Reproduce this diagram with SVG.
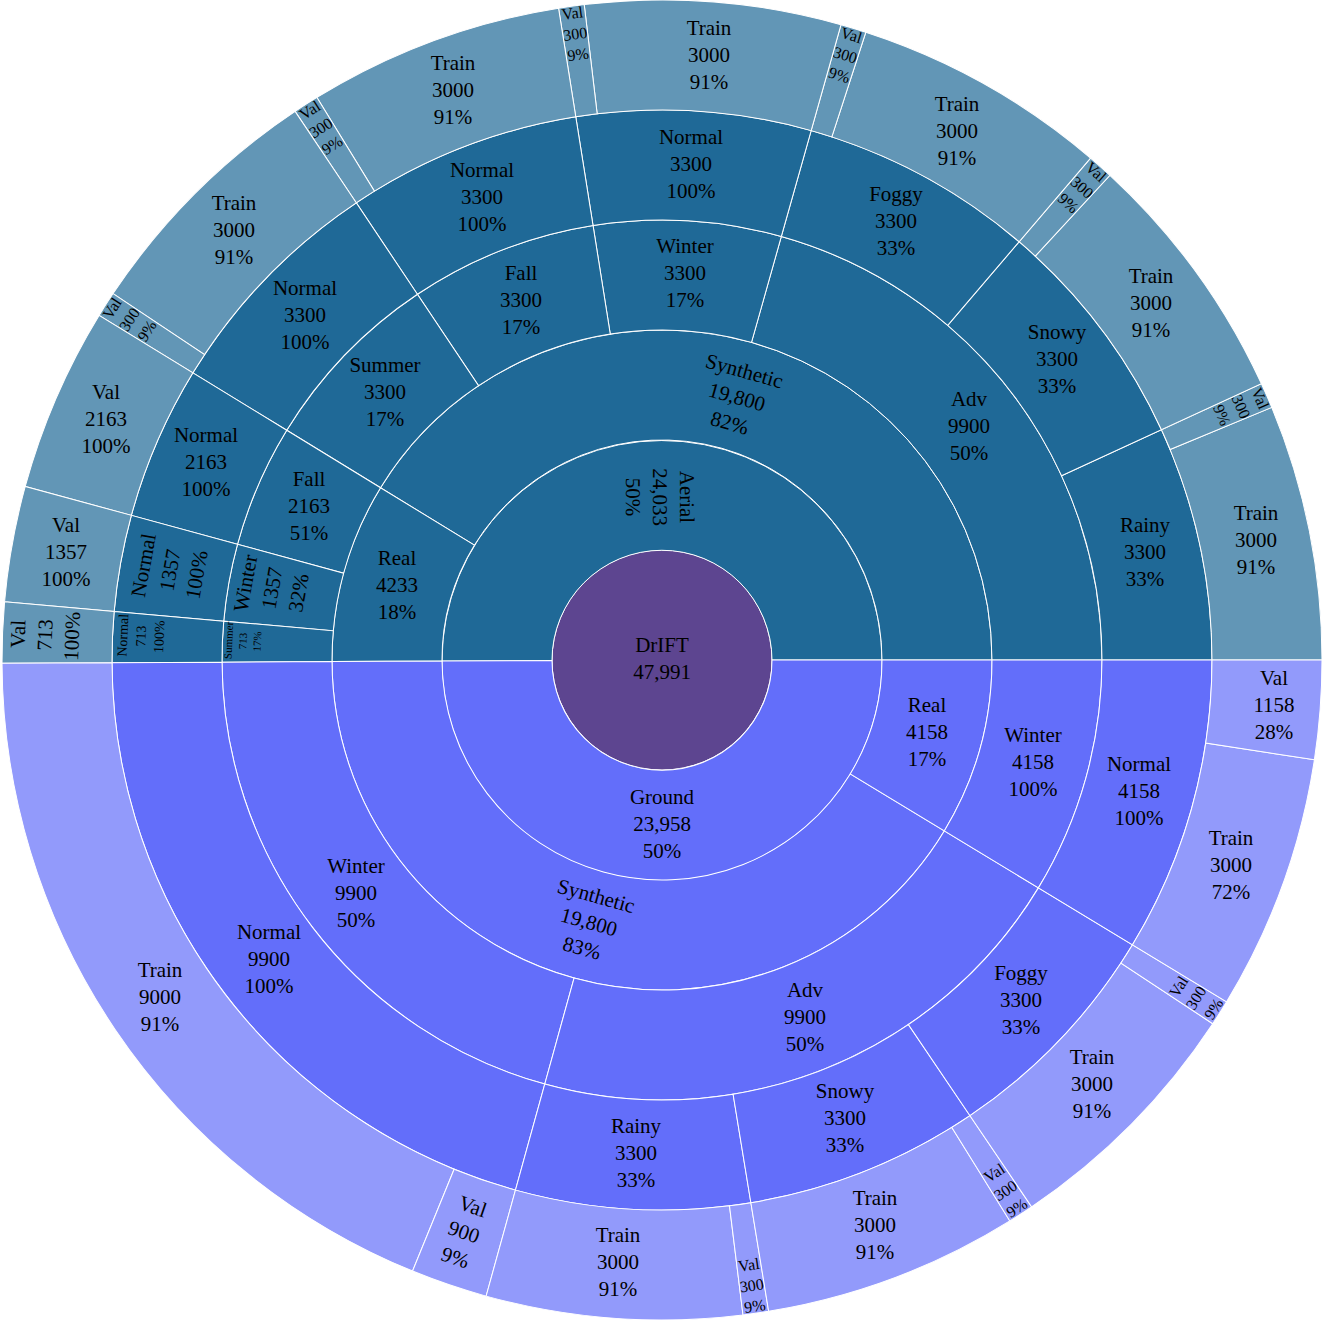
<svg xmlns="http://www.w3.org/2000/svg" width="1330" height="1320" viewBox="0 0 1330 1320">
<style>
.a{fill:#1f6997}.al{fill:#6296b6}.g{fill:#636efa}.gl{fill:#929afb}.rt{fill:#5d4590}
path,circle{stroke:#fff;stroke-width:1}
text{font-family:"Liberation Serif","Times New Roman",serif;font-size:21px;fill:#000;text-anchor:middle}
.s16{font-size:16px}.s14{font-size:14px}.s11{font-size:11px}
</style>
<rect width="1330" height="1320" fill="#fff"/>
<g id="chart">
<g id="root"><circle class="rt" cx="662" cy="660" r="110"/><text><tspan x="662" y="652">DrIFT</tspan><tspan x="662" y="679">47,991</tspan></text></g>

<g id="aerial"><path class="a" transform="translate(662 660)" d="M220 0A220 220 0 1 0 -220 1.08L-110 0.54A110 110 0 1 1 110 0Z"/><text transform="translate(660 497) rotate(89.86)"><tspan x="0" y="-20">Aerial</tspan><tspan x="0" y="7">24,033</tspan><tspan x="0" y="34">50%</tspan></text></g>
<g id="ground"><path class="g" transform="translate(662 660) rotate(-180.2813)" d="M220 0A220 220 0 0 0 -220 -1.08L-110 -0.54A110 110 0 0 1 110 0Z"/><text transform="translate(662 824)"><tspan x="0" y="-20">Ground</tspan><tspan x="0" y="7">23,958</tspan><tspan x="0" y="34">50%</tspan></text></g>

<g id="a-syn"><path class="a" transform="translate(662 660)" d="M330 0A330 330 0 0 0 -281.45 -172.29L-187.64 -114.86A220 220 0 0 1 220 0Z"/><text transform="translate(737 397) rotate(15.74)"><tspan x="0" y="-20">Synthetic</tspan><tspan x="0" y="7">19,800</tspan><tspan x="0" y="34">82%</tspan></text></g>
<g id="a-real"><path class="a" transform="translate(662 660) rotate(-148.5278)" d="M330 0A330 330 0 0 0 280.61 -173.67L187.07 -115.78A220 220 0 0 1 220 0Z"/><text transform="translate(397 585)"><tspan x="0" y="-20">Real</tspan><tspan x="0" y="7">4233</tspan><tspan x="0" y="34">18%</tspan></text></g>
<g id="g-syn"><path class="g" transform="translate(662 660) rotate(-180.2813)" d="M330 0A330 330 0 0 0 -281.45 -172.29L-187.64 -114.86A220 220 0 0 1 220 0Z"/><text transform="translate(589 922) rotate(15.45)"><tspan x="0" y="-20">Synthetic</tspan><tspan x="0" y="7">19,800</tspan><tspan x="0" y="34">83%</tspan></text></g>
<g id="g-real"><path class="g" transform="translate(662 660) rotate(-328.8092)" d="M330 0A330 330 0 0 0 282.30 -170.90L188.20 -113.94A220 220 0 0 1 220 0Z"/><text transform="translate(927 732)"><tspan x="0" y="-20">Real</tspan><tspan x="0" y="7">4158</tspan><tspan x="0" y="34">17%</tspan></text></g>

<g id="a-adv"><path class="a" transform="translate(662 660)" d="M440 0A440 440 0 0 0 119.34 -423.51L89.50 -317.63A330 330 0 0 1 330 0Z"/><text transform="translate(969 426)"><tspan x="0" y="-20">Adv</tspan><tspan x="0" y="7">9900</tspan><tspan x="0" y="34">50%</tspan></text></g>
<g id="a-winter"><path class="a" transform="translate(662 660) rotate(-74.2639)" d="M440 0A440 440 0 0 0 399.57 -184.24L299.68 -138.18A330 330 0 0 1 330 0Z"/><text transform="translate(685 273)"><tspan x="0" y="-20">Winter</tspan><tspan x="0" y="7">3300</tspan><tspan x="0" y="34">17%</tspan></text></g>
<g id="a-fall"><path class="a" transform="translate(662 660) rotate(-99.0186)" d="M440 0A440 440 0 0 0 399.57 -184.24L299.68 -138.18A330 330 0 0 1 330 0Z"/><text transform="translate(521 300)"><tspan x="0" y="-20">Fall</tspan><tspan x="0" y="7">3300</tspan><tspan x="0" y="34">17%</tspan></text></g>
<g id="a-summer"><path class="a" transform="translate(662 660) rotate(-123.7732)" d="M440 0A440 440 0 0 0 399.57 -184.24L299.68 -138.18A330 330 0 0 1 330 0Z"/><text transform="translate(385 392)"><tspan x="0" y="-20">Summer</tspan><tspan x="0" y="7">3300</tspan><tspan x="0" y="34">17%</tspan></text></g>
<g id="ar-fall"><path class="a" transform="translate(662 660) rotate(-148.5278)" d="M440 0A440 440 0 0 0 422.47 -122.94L316.86 -92.21A330 330 0 0 1 330 0Z"/><text transform="translate(309 506)"><tspan x="0" y="-20">Fall</tspan><tspan x="0" y="7">2163</tspan><tspan x="0" y="34">51%</tspan></text></g>
<g id="ar-winter"><path class="a" transform="translate(662 660) rotate(-164.7534)" d="M440 0A440 440 0 0 0 433.07 -77.76L324.81 -58.32A330 330 0 0 1 330 0Z"/><text transform="translate(272 588) rotate(-79.84)"><tspan x="0" y="-20">Winter</tspan><tspan x="0" y="7">1357</tspan><tspan x="0" y="34">32%</tspan></text></g>
<g id="ar-summer"><path class="a" transform="translate(662 660) rotate(-174.9328)" d="M440 0A440 440 0 0 0 438.08 -41.01L328.56 -30.76A330 330 0 0 1 330 0Z"/><text class="s11" transform="translate(243 641) rotate(-87.61)"><tspan x="0" y="-10.7">Summer</tspan><tspan x="0" y="3.6">713</tspan><tspan x="0" y="17.9">17%</tspan></text></g>
<g id="g-winter"><path class="g" transform="translate(662 660) rotate(-180.2813)" d="M440 0A440 440 0 0 0 119.34 -423.51L89.50 -317.63A330 330 0 0 1 330 0Z"/><text transform="translate(356 893)"><tspan x="0" y="-20">Winter</tspan><tspan x="0" y="7">9900</tspan><tspan x="0" y="34">50%</tspan></text></g>
<g id="g-adv"><path class="g" transform="translate(662 660) rotate(-254.5452)" d="M440 0A440 440 0 0 0 119.34 -423.51L89.50 -317.63A330 330 0 0 1 330 0Z"/><text transform="translate(805 1017)"><tspan x="0" y="-20">Adv</tspan><tspan x="0" y="7">9900</tspan><tspan x="0" y="34">50%</tspan></text></g>
<g id="gr-winter"><path class="g" transform="translate(662 660) rotate(-328.8092)" d="M440 0A440 440 0 0 0 376.40 -227.87L282.30 -170.90A330 330 0 0 1 330 0Z"/><text transform="translate(1033 762)"><tspan x="0" y="-20">Winter</tspan><tspan x="0" y="7">4158</tspan><tspan x="0" y="34">100%</tspan></text></g>

<g id="a-rainy"><path class="a" transform="translate(662 660)" d="M550 0A550 550 0 0 0 499.46 -230.30L399.57 -184.24A440 440 0 0 1 440 0Z"/><text transform="translate(1145 552)"><tspan x="0" y="-20">Rainy</tspan><tspan x="0" y="7">3300</tspan><tspan x="0" y="34">33%</tspan></text></g>
<g id="a-snowy"><path class="a" transform="translate(662 660) rotate(-24.7546)" d="M550 0A550 550 0 0 0 499.46 -230.30L399.57 -184.24A440 440 0 0 1 440 0Z"/><text transform="translate(1057 359)"><tspan x="0" y="-20">Snowy</tspan><tspan x="0" y="7">3300</tspan><tspan x="0" y="34">33%</tspan></text></g>
<g id="a-foggy"><path class="a" transform="translate(662 660) rotate(-49.5093)" d="M550 0A550 550 0 0 0 499.46 -230.30L399.57 -184.24A440 440 0 0 1 440 0Z"/><text transform="translate(896 221)"><tspan x="0" y="-20">Foggy</tspan><tspan x="0" y="7">3300</tspan><tspan x="0" y="34">33%</tspan></text></g>
<g id="a-winter-normal"><path class="a" transform="translate(662 660) rotate(-74.2639)" d="M550 0A550 550 0 0 0 499.46 -230.30L399.57 -184.24A440 440 0 0 1 440 0Z"/><text transform="translate(691 164)"><tspan x="0" y="-20">Normal</tspan><tspan x="0" y="7">3300</tspan><tspan x="0" y="34">100%</tspan></text></g>
<g id="a-fall-normal"><path class="a" transform="translate(662 660) rotate(-99.0186)" d="M550 0A550 550 0 0 0 499.46 -230.30L399.57 -184.24A440 440 0 0 1 440 0Z"/><text transform="translate(482 197)"><tspan x="0" y="-20">Normal</tspan><tspan x="0" y="7">3300</tspan><tspan x="0" y="34">100%</tspan></text></g>
<g id="a-summer-normal"><path class="a" transform="translate(662 660) rotate(-123.7732)" d="M550 0A550 550 0 0 0 499.46 -230.30L399.57 -184.24A440 440 0 0 1 440 0Z"/><text transform="translate(305 315)"><tspan x="0" y="-20">Normal</tspan><tspan x="0" y="7">3300</tspan><tspan x="0" y="34">100%</tspan></text></g>
<g id="ar-fall-normal"><path class="a" transform="translate(662 660) rotate(-148.5278)" d="M550 0A550 550 0 0 0 528.09 -153.68L422.47 -122.94A440 440 0 0 1 440 0Z"/><text transform="translate(206 462)"><tspan x="0" y="-20">Normal</tspan><tspan x="0" y="7">2163</tspan><tspan x="0" y="34">100%</tspan></text></g>
<g id="ar-winter-normal"><path class="a" transform="translate(662 660) rotate(-164.7534)" d="M550 0A550 550 0 0 0 541.34 -97.20L433.07 -77.76A440 440 0 0 1 440 0Z"/><text transform="translate(170 570) rotate(-79.84)"><tspan x="0" y="-20">Normal</tspan><tspan x="0" y="7">1357</tspan><tspan x="0" y="34">100%</tspan></text></g>
<g id="ar-summer-normal"><path class="a" transform="translate(662 660) rotate(-174.9328)" d="M550 0A550 550 0 0 0 547.61 -51.27L438.08 -41.01A440 440 0 0 1 440 0Z"/><text class="s14" transform="translate(141 636) rotate(-87.61)"><tspan x="0" y="-13.6">Normal</tspan><tspan x="0" y="4.6">713</tspan><tspan x="0" y="22.8">100%</tspan></text></g>
<g id="g-winter-normal"><path class="g" transform="translate(662 660) rotate(-180.2813)" d="M550 0A550 550 0 0 0 149.17 -529.39L119.34 -423.51A440 440 0 0 1 440 0Z"/><text transform="translate(269 959)"><tspan x="0" y="-20">Normal</tspan><tspan x="0" y="7">9900</tspan><tspan x="0" y="34">100%</tspan></text></g>
<g id="g-rainy"><path class="g" transform="translate(662 660) rotate(-254.5452)" d="M550 0A550 550 0 0 0 499.46 -230.30L399.57 -184.24A440 440 0 0 1 440 0Z"/><text transform="translate(636 1153)"><tspan x="0" y="-20">Rainy</tspan><tspan x="0" y="7">3300</tspan><tspan x="0" y="34">33%</tspan></text></g>
<g id="g-snowy"><path class="g" transform="translate(662 660) rotate(-279.2999)" d="M550 0A550 550 0 0 0 499.46 -230.30L399.57 -184.24A440 440 0 0 1 440 0Z"/><text transform="translate(845 1118)"><tspan x="0" y="-20">Snowy</tspan><tspan x="0" y="7">3300</tspan><tspan x="0" y="34">33%</tspan></text></g>
<g id="g-foggy"><path class="g" transform="translate(662 660) rotate(-304.0545)" d="M550 0A550 550 0 0 0 499.46 -230.30L399.57 -184.24A440 440 0 0 1 440 0Z"/><text transform="translate(1021 1000)"><tspan x="0" y="-20">Foggy</tspan><tspan x="0" y="7">3300</tspan><tspan x="0" y="34">33%</tspan></text></g>
<g id="gr-normal"><path class="g" transform="translate(662 660) rotate(-328.8092)" d="M550 0A550 550 0 0 0 470.50 -284.84L376.40 -227.87A440 440 0 0 1 440 0Z"/><text transform="translate(1139 791)"><tspan x="0" y="-20">Normal</tspan><tspan x="0" y="7">4158</tspan><tspan x="0" y="34">100%</tspan></text></g>

<g id="a-rainy-train"><path class="al" transform="translate(662 660)" d="M660 0A660 660 0 0 0 609.74 -252.62L508.12 -210.51A550 550 0 0 1 550 0Z"/><text transform="translate(1256 540)"><tspan x="0" y="-20">Train</tspan><tspan x="0" y="7">3000</tspan><tspan x="0" y="34">91%</tspan></text></g>
<g id="a-rainy-val"><path class="al" transform="translate(662 660) rotate(-22.5042)" d="M660 0A660 660 0 0 0 659.49 -25.92L549.58 -21.60A550 550 0 0 1 550 0Z"/><text class="s16" transform="translate(1241 406.7) rotate(66.37)"><tspan x="0" y="-15.5">Val</tspan><tspan x="0" y="5.3">300</tspan><tspan x="0" y="26.1">9%</tspan></text></g>
<g id="a-snowy-train"><path class="al" transform="translate(662 660) rotate(-24.7546)" d="M660 0A660 660 0 0 0 609.74 -252.62L508.12 -210.51A550 550 0 0 1 550 0Z"/><text transform="translate(1151 303)"><tspan x="0" y="-20">Train</tspan><tspan x="0" y="7">3000</tspan><tspan x="0" y="34">91%</tspan></text></g>
<g id="a-snowy-val"><path class="al" transform="translate(662 660) rotate(-47.2589)" d="M660 0A660 660 0 0 0 659.49 -25.92L549.58 -21.60A550 550 0 0 1 550 0Z"/><text class="s16" transform="translate(1082 187.5) rotate(41.62)"><tspan x="0" y="-15.5">Val</tspan><tspan x="0" y="5.3">300</tspan><tspan x="0" y="26.1">9%</tspan></text></g>
<g id="a-foggy-train"><path class="al" transform="translate(662 660) rotate(-49.5093)" d="M660 0A660 660 0 0 0 609.74 -252.62L508.12 -210.51A550 550 0 0 1 550 0Z"/><text transform="translate(957 131)"><tspan x="0" y="-20">Train</tspan><tspan x="0" y="7">3000</tspan><tspan x="0" y="34">91%</tspan></text></g>
<g id="a-foggy-val"><path class="al" transform="translate(662 660) rotate(-72.0135)" d="M660 0A660 660 0 0 0 659.49 -25.92L549.58 -21.60A550 550 0 0 1 550 0Z"/><text class="s16" transform="translate(845.3 55.2) rotate(16.86)"><tspan x="0" y="-15.5">Val</tspan><tspan x="0" y="5.3">300</tspan><tspan x="0" y="26.1">9%</tspan></text></g>
<g id="a-winter-train"><path class="al" transform="translate(662 660) rotate(-74.2639)" d="M660 0A660 660 0 0 0 609.74 -252.62L508.12 -210.51A550 550 0 0 1 550 0Z"/><text transform="translate(709 55)"><tspan x="0" y="-20">Train</tspan><tspan x="0" y="7">3000</tspan><tspan x="0" y="34">91%</tspan></text></g>
<g id="a-winter-val"><path class="al" transform="translate(662 660) rotate(-96.7681)" d="M660 0A660 660 0 0 0 659.49 -25.92L549.58 -21.60A550 550 0 0 1 550 0Z"/><text class="s16" transform="translate(575.2 34) rotate(-7.89)"><tspan x="0" y="-15.5">Val</tspan><tspan x="0" y="5.3">300</tspan><tspan x="0" y="26.1">9%</tspan></text></g>
<g id="a-fall-train"><path class="al" transform="translate(662 660) rotate(-99.0186)" d="M660 0A660 660 0 0 0 609.74 -252.62L508.12 -210.51A550 550 0 0 1 550 0Z"/><text transform="translate(453 90)"><tspan x="0" y="-20">Train</tspan><tspan x="0" y="7">3000</tspan><tspan x="0" y="34">91%</tspan></text></g>
<g id="a-fall-val"><path class="al" transform="translate(662 660) rotate(-121.5228)" d="M660 0A660 660 0 0 0 659.49 -25.92L549.58 -21.60A550 550 0 0 1 550 0Z"/><text class="s16" transform="translate(321 127.9) rotate(-32.65)"><tspan x="0" y="-15.5">Val</tspan><tspan x="0" y="5.3">300</tspan><tspan x="0" y="26.1">9%</tspan></text></g>
<g id="a-summer-train"><path class="al" transform="translate(662 660) rotate(-123.7732)" d="M660 0A660 660 0 0 0 609.74 -252.62L508.12 -210.51A550 550 0 0 1 550 0Z"/><text transform="translate(234 230)"><tspan x="0" y="-20">Train</tspan><tspan x="0" y="7">3000</tspan><tspan x="0" y="34">91%</tspan></text></g>
<g id="a-summer-val"><path class="al" transform="translate(662 660) rotate(-146.2774)" d="M660 0A660 660 0 0 0 659.49 -25.92L549.58 -21.60A550 550 0 0 1 550 0Z"/><text class="s16" transform="translate(129.5 319.6) rotate(-57.40)"><tspan x="0" y="-15.5">Val</tspan><tspan x="0" y="5.3">300</tspan><tspan x="0" y="26.1">9%</tspan></text></g>
<g id="ar-fall-val"><path class="al" transform="translate(662 660) rotate(-148.5278)" d="M660 0A660 660 0 0 0 633.71 -184.42L528.09 -153.68A550 550 0 0 1 550 0Z"/><text transform="translate(106 419)"><tspan x="0" y="-20">Val</tspan><tspan x="0" y="7">2163</tspan><tspan x="0" y="34">100%</tspan></text></g>
<g id="ar-winter-val"><path class="al" transform="translate(662 660) rotate(-164.7534)" d="M660 0A660 660 0 0 0 649.61 -116.64L541.34 -97.20A550 550 0 0 1 550 0Z"/><text transform="translate(66 552)"><tspan x="0" y="-20">Val</tspan><tspan x="0" y="7">1357</tspan><tspan x="0" y="34">100%</tspan></text></g>
<g id="ar-summer-val"><path class="al" transform="translate(662 660) rotate(-174.9328)" d="M660 0A660 660 0 0 0 657.13 -61.52L547.61 -51.27A550 550 0 0 1 550 0Z"/><text transform="translate(45 635) rotate(-87.61)"><tspan x="0" y="-20">Val</tspan><tspan x="0" y="7">713</tspan><tspan x="0" y="34">100%</tspan></text></g>

<g id="g-winter-train"><path class="gl" transform="translate(662 660) rotate(-180.2813)" d="M660 0A660 660 0 0 0 252.44 -609.81L210.36 -508.18A550 550 0 0 1 550 0Z"/><text transform="translate(160 997)"><tspan x="0" y="-20">Train</tspan><tspan x="0" y="7">9000</tspan><tspan x="0" y="34">91%</tspan></text></g>
<g id="g-winter-val"><path class="gl" transform="translate(662 660) rotate(-247.794)" d="M660 0A660 660 0 0 0 655.42 -77.59L546.19 -64.66A550 550 0 0 1 550 0Z"/><text transform="translate(464 1232) rotate(18.83)"><tspan x="0" y="-20">Val</tspan><tspan x="0" y="7">900</tspan><tspan x="0" y="34">9%</tspan></text></g>
<g id="g-rainy-train"><path class="gl" transform="translate(662 660) rotate(-254.5452)" d="M660 0A660 660 0 0 0 609.74 -252.62L508.12 -210.51A550 550 0 0 1 550 0Z"/><text transform="translate(618 1262)"><tspan x="0" y="-20">Train</tspan><tspan x="0" y="7">3000</tspan><tspan x="0" y="34">91%</tspan></text></g>
<g id="g-rainy-val"><path class="gl" transform="translate(662 660) rotate(-277.0494)" d="M660 0A660 660 0 0 0 659.49 -25.92L549.58 -21.60A550 550 0 0 1 550 0Z"/><text class="s16" transform="translate(751.8 1285.6) rotate(-8.17)"><tspan x="0" y="-15.5">Val</tspan><tspan x="0" y="5.3">300</tspan><tspan x="0" y="26.1">9%</tspan></text></g>
<g id="g-snowy-train"><path class="gl" transform="translate(662 660) rotate(-279.2999)" d="M660 0A660 660 0 0 0 609.74 -252.62L508.12 -210.51A550 550 0 0 1 550 0Z"/><text transform="translate(875 1225)"><tspan x="0" y="-20">Train</tspan><tspan x="0" y="7">3000</tspan><tspan x="0" y="34">91%</tspan></text></g>
<g id="g-snowy-val"><path class="gl" transform="translate(662 660) rotate(-301.8041)" d="M660 0A660 660 0 0 0 659.49 -25.92L549.58 -21.60A550 550 0 0 1 550 0Z"/><text class="s16" transform="translate(1005.6 1190.5) rotate(-32.93)"><tspan x="0" y="-15.5">Val</tspan><tspan x="0" y="5.3">300</tspan><tspan x="0" y="26.1">9%</tspan></text></g>
<g id="g-foggy-train"><path class="gl" transform="translate(662 660) rotate(-304.0545)" d="M660 0A660 660 0 0 0 609.74 -252.62L508.12 -210.51A550 550 0 0 1 550 0Z"/><text transform="translate(1092 1084)"><tspan x="0" y="-20">Train</tspan><tspan x="0" y="7">3000</tspan><tspan x="0" y="34">91%</tspan></text></g>
<g id="g-foggy-val"><path class="gl" transform="translate(662 660) rotate(-326.5587)" d="M660 0A660 660 0 0 0 659.49 -25.92L549.58 -21.60A550 550 0 0 1 550 0Z"/><text class="s16" transform="translate(1196.2 997.9) rotate(-57.68)"><tspan x="0" y="-15.5">Val</tspan><tspan x="0" y="5.3">300</tspan><tspan x="0" y="26.1">9%</tspan></text></g>
<g id="gr-train"><path class="gl" transform="translate(662 660) rotate(-328.8092)" d="M660 0A660 660 0 0 0 609.74 -252.62L508.12 -210.51A550 550 0 0 1 550 0Z"/><text transform="translate(1231 865)"><tspan x="0" y="-20">Train</tspan><tspan x="0" y="7">3000</tspan><tspan x="0" y="34">72%</tspan></text></g>
<g id="gr-val"><path class="gl" transform="translate(662 660) rotate(-351.3134)" d="M660 0A660 660 0 0 0 652.43 -99.68L543.69 -83.07A550 550 0 0 1 550 0Z"/><text transform="translate(1274 705)"><tspan x="0" y="-20">Val</tspan><tspan x="0" y="7">1158</tspan><tspan x="0" y="34">28%</tspan></text></g>
</g>
</svg>
